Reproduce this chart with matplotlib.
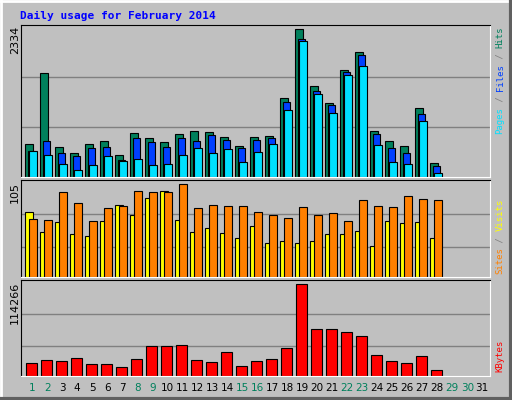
import matplotlib
matplotlib.use("Agg")
import matplotlib.pyplot as plt
from matplotlib.patches import Rectangle
import numpy as np

days = list(range(1, 32))
hits = [528, 1637, 480, 385, 528, 575, 354, 702, 623, 560, 686, 734, 718, 639,
        496, 639, 655, 1241, 2334, 1431, 1177, 1684, 1969, 734, 575, 496, 1098, 227]
files = [407, 575, 385, 338, 465, 480, 275, 623, 560, 480, 623, 575, 671, 591,
         465, 591, 623, 1193, 2186, 1352, 1130, 1653, 1922, 686, 465, 385, 1003, 180]
pages = [417, 354, 211, 116, 195, 338, 259, 290, 195, 211, 354, 465, 385, 449,
         243, 401, 528, 1051, 2144, 1304, 1019, 1605, 1748, 512, 243, 211, 892, 69]
visits = [74, 51, 62, 49, 46, 63, 82, 70, 89, 97, 65, 51, 55, 50,
          44, 58, 38, 41, 39, 41, 49, 49, 52, 35, 63, 61, 62, 44]
sites = [66, 65, 96, 84, 64, 78, 80, 98, 96, 96, 105, 78, 82, 80,
         80, 74, 70, 67, 79, 70, 73, 63, 87, 81, 79, 92, 88, 87]
kbytes = [16325, 20093, 18837, 22604, 15070, 15070, 11302, 21349, 37674, 37674,
          38930, 20093, 17581, 30139, 12558, 18837, 21349, 35162, 114266, 59023,
          59023, 55255, 50232, 26372, 18837, 16325, 25116, 7535]
weekends = [1, 2, 8, 9, 15, 16, 22, 23, 29, 30]

BG = "#C0C0C0"
W, H = 512, 400
fig = plt.figure(figsize=(W / 100, H / 100), dpi=100, facecolor=BG)

# bevelled outer border
fig.add_artist(plt.Line2D([0, 1], [1 - 0.5 / H] * 2, color="white", lw=2, transform=fig.transFigure))
fig.add_artist(plt.Line2D([0.5 / W] * 2, [0, 1], color="white", lw=2, transform=fig.transFigure))
fig.add_artist(plt.Line2D([0, 1], [1.5 / H] * 2, color="#606060", lw=3, transform=fig.transFigure))
fig.add_artist(plt.Line2D([1 - 1.5 / W] * 2, [0, 1], color="#606060", lw=3, transform=fig.transFigure))

fig.text(20 / W, 1 - 16 / H, "Daily usage for February 2014", color="#0000FF",
         family="DejaVu Sans Mono", weight="bold", fontsize=8, va="center")

def panel(top, bottom):
    ax = fig.add_axes([21 / W, 1 - bottom / H, (490 - 21) / W, (bottom - top) / H])
    ax.set_facecolor(BG)
    ax.set_xlim(0, 469 / 15)
    ax.set_xticks([])
    ax.set_yticks([])
    for s in ("top", "left"):
        ax.spines[s].set_color("black")
    for s in ("bottom", "right"):
        ax.spines[s].set_color("white")
    return ax

def side_label(ytop, parts):
    # parts listed top to bottom, text rotated 90 deg
    step = 5.4
    y = ytop
    for txt, col in parts:
        fig.text(500 / W, 1 - y / H, txt, color=col, rotation=90, family="DejaVu Sans Mono",
                 fontsize=6.5, ha="center", va="top")
        y += step * len(txt)

x0 = np.arange(len(hits))
edge = dict(edgecolor="black", linewidth=0.8, align="edge")

# top panel
ax1 = panel(24.7, 177)
ymax1 = 2334 * 152 / 147.4
ax1.set_ylim(0, ymax1)
for f in (1 / 3, 2 / 3):
    ax1.axhline(2334 * f * 1.015, color="#808080", lw=1, zorder=0)
ax1.bar(x0 + 0.29, hits, 0.49, color="#00805C", **edge)
ax1.bar(x0 + 0.45, files, 0.49, color="#0040FF", **edge)
ax1.bar(x0 + 0.56, pages, 0.49, color="#00E0FF", **edge)
fig.text(15 / W, 1 - 26 / H, "2334", rotation=90, ha="center", va="top", fontsize=8)
side_label(26, [("Hits", "#00805C"), (" / ", "#808080"), ("Files", "#0040FF"),
                (" / ", "#808080"), ("Pages", "#00E0FF")])

# middle panel
ax2 = panel(180.3, 277)
ax2.set_ylim(0, 105 * 96 / 92)
for f in (0.326, 0.684):
    ax2.axhline(105 * f, color="#808080", lw=1, zorder=0)
ax2.bar(x0 + 0.29, visits, 0.53, color="#FFFF00", **edge)
ax2.bar(x0 + 0.56, sites, 0.49, color="#FF8000", **edge)
fig.text(15 / W, 1 - 182 / H, "105", rotation=90, ha="center", va="top", fontsize=8)
side_label(199, [("Visits", "#FFFF00"), (" / ", "#808080"), ("Sites", "#FF8000")])

# bottom panel
ax3 = panel(280.3, 376)
ax3.set_ylim(0, 114266 * 95 / 91)
for f in (0.322, 0.681):
    ax3.axhline(114266 * f, color="#808080", lw=1, zorder=0)
ax3.bar(x0 + 0.34, kbytes, 0.71, color="#FF0000", **edge)
fig.text(15 / W, 1 - 282 / H, "114266", rotation=90, ha="center", va="top", fontsize=8)
side_label(340, [("KBytes", "#FF0000")])

for d in days:
    col = "#00805C" if d in weekends else "black"
    xpix = 21 + ((d - 1) + 0.75) * 15
    fig.text(xpix / W, 1 - 388 / H, str(d), color=col, ha="center", va="center", fontsize=7.5)

fig.savefig("out.png", dpi=100, facecolor=BG)
